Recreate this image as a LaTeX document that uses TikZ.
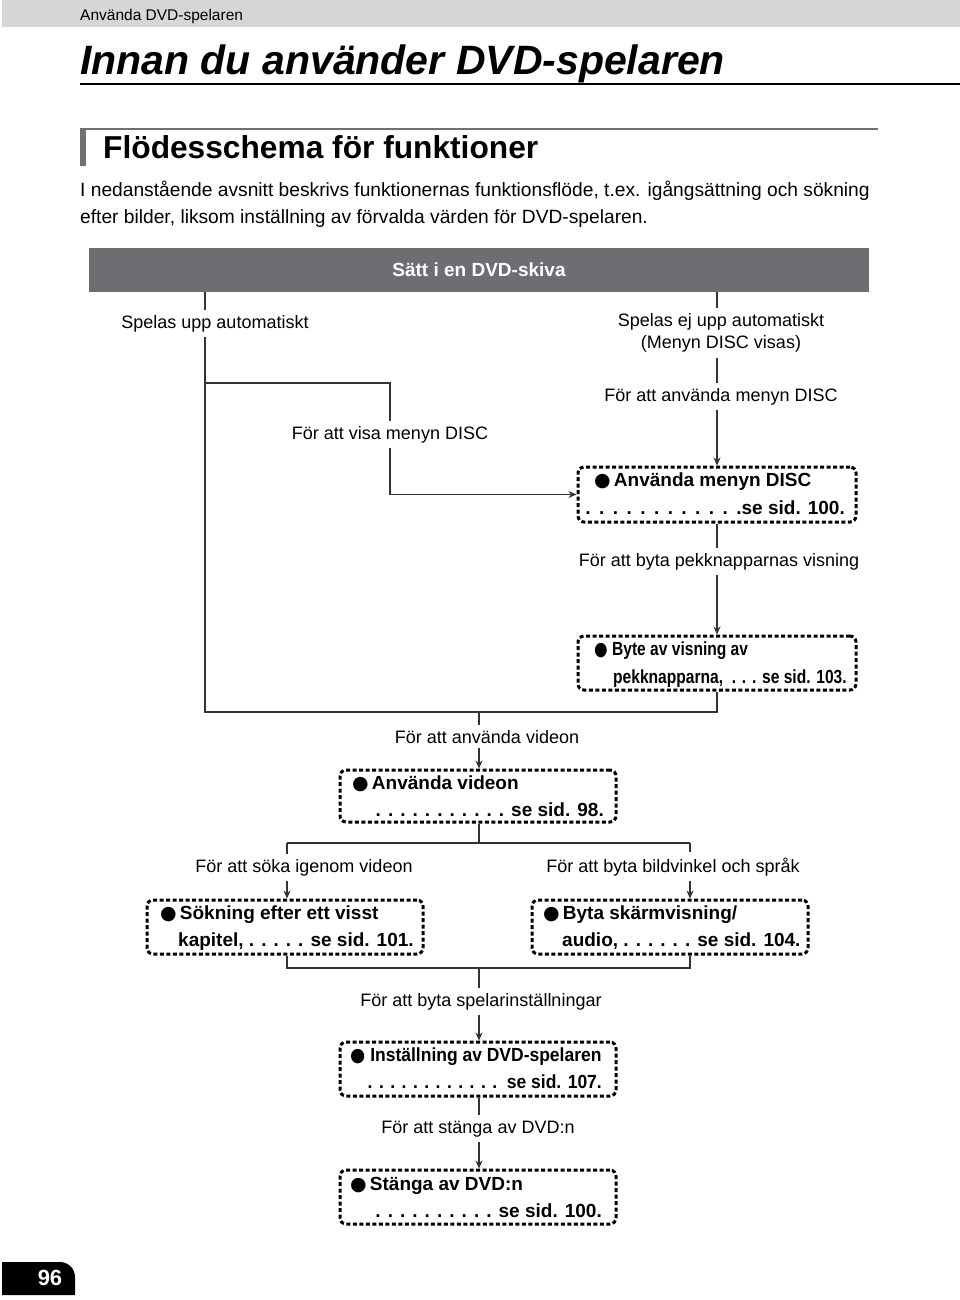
\documentclass[tikz,border=0pt]{standalone}
\usepackage{fontspec}
\setmainfont{Liberation Sans}
\newfontfamily\symf{DejaVu Sans}
\usetikzlibrary{arrows.meta,positioning}
\definecolor{headgray}{HTML}{D6D6D6}
\definecolor{bargray}{HTML}{6D6E71}
\definecolor{secgray}{HTML}{707070}
\definecolor{linegray}{HTML}{333333}

\begin{document}
\begin{tikzpicture}[x=1pt,y=-1pt,
  lbl/.style={font=\fontsize{18}{22}\selectfont,inner xsep=0pt,inner ysep=5pt},
  box/.style={draw,line width=3pt,dash pattern=on 4pt off 2.5pt,rounded corners=6pt,minimum width=276pt,minimum height=54pt},
  boxtxt/.style={font=\bfseries\fontsize{19}{22}\selectfont,inner sep=0pt},
  ln/.style={line width=1.3pt,color=linegray},
  arr/.style={ln,-{Stealth[length=8pt,width=7pt]}}]
\useasboundingbox (0,0) rectangle (960,1300);

% page head
\fill[headgray] (2,0) rectangle (960,27);
\node[anchor=base west,inner sep=0pt,font=\fontsize{15.5}{17}\selectfont] (runhead) at (80,21) {Använda DVD-spelaren};
\node[anchor=base west,inner sep=0pt,font=\bfseries\itshape\fontsize{41}{44}\selectfont] (title) at (80,75) {Innan du använder DVD-spelaren};
\draw[line width=2.5pt] (80,84) -- (960,84);
\draw[line width=2pt,secgray] (80,129) -- (878,129);
\fill[secgray] (80,128) rectangle (86,166);
\node[anchor=base west,inner sep=0pt,font=\bfseries\fontsize{31.7}{34}\selectfont] (sec) at (103,159) {Flödesschema för funktioner};
\node[anchor=base west,inner sep=0pt,font=\fontsize{19.2}{27}\selectfont,align=left] (intro) at (80,223)
  {I nedanstående avsnitt beskrivs funktionernas funktionsflöde, t.ex. igångsättning och sökning\\efter bilder, liksom inställning av förvalda värden för DVD-spelaren.};

% start
\node[fill=bargray,text=white,font=\bfseries\fontsize{19}{22}\selectfont,minimum width=780pt,minimum height=44pt] (bar) at (479,270) {Sätt i en DVD-skiva};

% labels
\node[lbl,anchor=base] (lup) at (215,328) {Spelas upp automatiskt};
\node[lbl,align=center] (lej) at (721,333) {Spelas ej upp automatiskt\\(Menyn DISC visas)};
\node[lbl,anchor=base] (lmeny) at (721,401) {För att använda menyn DISC};
\node[lbl,anchor=base] (lvisa) at (390,439) {För att visa menyn DISC};
\node[lbl,anchor=base] (lpek) at (719,566) {För att byta pekknapparnas visning};
\node[lbl,anchor=base] (lvid) at (487,743) {För att använda videon};
\node[lbl,anchor=base] (lsok) at (304,872) {För att söka igenom videon};
\node[lbl,anchor=base] (lbild) at (673,872) {För att byta bildvinkel och språk};
\node[lbl,anchor=base] (lspel) at (481,1006) {För att byta spelarinställningar};
\node[lbl,anchor=base] (lstang) at (478,1133) {För att stänga av DVD:n};

% boxes
\node[box,minimum width=278pt,minimum height=55pt] (b1) at (717,494.5) {};
\node[box,minimum width=278pt] (b2) at (717,663) {};
\node[box,minimum height=52pt] (b3) at (478,796) {};
\node[box] (b4) at (285,927) {};
\node[box] (b5) at (670,927) {};
\node[box] (b6) at (478,1069) {};
\node[box] (b7) at (478,1197) {};

\node[boxtxt,anchor=base west] (t1a) at (594,486) {{\symf ●}\,Använda menyn DISC};
\node[boxtxt,anchor=base east] (t1b) at (845,514) {.\ \,.\ \,.\ \,.\ \,.\ \,.\ \,.\ \,.\ \,.\ \,.\ \,.\ \,.se sid. 100.};
\node[boxtxt,anchor=base west] (t2a) at (594,655) {\scalebox{0.82}[1]{{\symf ●}\ Byte av visning av}};
\node[boxtxt,anchor=base west] (t2b) at (613,683) {\scalebox{0.82}[1]{pekknapparna,\ \ . . . se sid. 103.}};
\node[boxtxt,anchor=base west] (t3a) at (352,789) {{\symf ●}\,Använda videon};
\node[boxtxt,anchor=base east] (t3b) at (604,816) {. . . . . . . . . . . se sid. 98.};
\node[boxtxt,anchor=base west] (t4a) at (160,919) {{\symf ●}\,Sökning efter ett visst};
\node[boxtxt,anchor=base west] (t4b) at (178,946) {kapitel, . . . . . se sid. 101.};
\node[boxtxt,anchor=base west] (t5a) at (543,919) {{\symf ●}\,Byta skärmvisning/};
\node[boxtxt,anchor=base west] (t5b) at (562,946) {audio, . . . . . . se sid. 104.};
\node[boxtxt,anchor=base west] (t6a) at (350,1061) {\scalebox{0.92}[1]{{\symf ●}\ Inställning av DVD-spelaren}};
\node[boxtxt,anchor=base east] (t6b) at (602,1088) {\scalebox{0.92}[1]{. . . . . . . . . . . .\ \ se sid. 107.}};
\node[boxtxt,anchor=base west] (t7a) at (350,1190) {{\symf ●}\,Stänga av DVD:n};
\node[boxtxt,anchor=base east] (t7b) at (602,1217) {. . . . . . . . . . se sid. 100.};

% junctions
\coordinate (jl) at (205,383);
\coordinate (jbot) at (205,712);
\coordinate (jv) at (479,712);
\coordinate (js) at (287,843);
\coordinate (jb) at (690,843);
\coordinate (ks) at (287,968);
\coordinate (kb) at (690,968);

% left branch
\draw[ln] (bar.south -| jl) -- (lup.north -| jl);
\draw[ln] (lup.south -| jl) -- (jbot) -| (b2.south);
\draw[ln] (jl) -| (lvisa.north);
\draw[arr] (lvisa.south) |- (b1.west);
% right branch
\draw[ln] (bar.south -| b1.north) -- (lej.north -| b1.north);
\draw[ln] (lej.south -| b1.north) -- (lmeny.north -| b1.north);
\draw[arr] (lmeny.south -| b1.north) -- (b1.north);
\draw[ln] (b1.south) -- (lpek.north -| b1.south);
\draw[arr] (lpek.south -| b1.south) -- (b2.north);
% video
\draw[ln] (jv) -- (lvid.north -| jv);
\draw[arr] (lvid.south -| jv) -- (b3.north -| jv);
\draw[ln] (b3.south -| jv) -- (jv |- js);
\draw[ln] (js) -- (jb);
\draw[ln] (js) -- (lsok.north -| js);
\draw[arr] (lsok.south -| js) -- (b4.north -| js);
\draw[ln] (jb) -- (lbild.north -| jb);
\draw[arr] (lbild.south -| jb) -- (b5.north -| jb);
\draw[ln] (b4.south -| ks) -- (ks) -- (kb) -- (b5.south -| kb);
\draw[ln] (ks -| jv) -- (lspel.north -| jv);
\draw[arr] (lspel.south -| jv) -- (b6.north -| jv);
\draw[ln] (b6.south -| jv) -- (lstang.north -| jv);
\draw[arr] (lstang.south -| jv) -- (b7.north -| jv);

% page number
\fill (2,1262) -- (60,1262) arc[start angle=-90,end angle=0,radius=15] -- (75,1295) -- (2,1295) -- cycle;
\node[text=white,font=\bfseries\fontsize{22}{24}\selectfont] (pnum) at (50,1278) {96};
\end{tikzpicture}
\end{document}
